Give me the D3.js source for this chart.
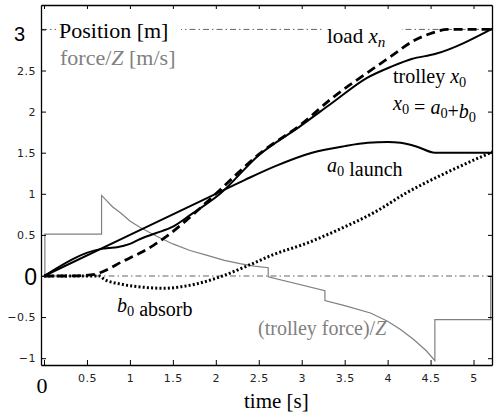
<!DOCTYPE html>
<html>
<head>
<meta charset="utf-8">
<script src="https://cdn.jsdelivr.net/npm/d3@7"></script>
<style>
  body { margin: 0; background: #fff; }
  svg { display: block; }
  .tick text { font-family: "DejaVu Sans", sans-serif; font-size: 11px; letter-spacing: 0.5px; fill: #222; }
  .lbl { font-family: "Liberation Serif", "Times New Roman", serif; }
</style>
</head>
<body>
<svg id="chart"></svg>
<script>
// time axis ticks / position axis ticks
var xTicks = [0, 0.5, 1, 1.5, 2, 2.5, 3, 3.5, 4, 4.5, 5]
var yTicks = [-1, -0.5, 0, 0.5, 1, 1.5, 2, 2.5, 3]

// load x_n (dashed)
var loadT = [0, 0.3, 0.6, 0.7, 0.92, 1.1, 1.27, 1.45, 1.66, 2.0, 2.5, 3.0, 3.36, 3.76, 4.05, 4.3, 4.5, 4.7, 5.22]
var loadV = [0, 0.0, 0.02, 0.06, 0.18, 0.27, 0.37, 0.5, 0.68, 1.0, 1.48, 1.85, 2.17, 2.47, 2.68, 2.86, 2.95, 3.0, 3.0]

// trolley x0 (solid)
var trolleyT = [0, 0.67, 0.75, 0.85, 1.0, 1.12, 1.3, 1.5, 1.7, 2.05, 2.5, 2.98, 3.36, 3.76, 4.05, 4.28, 4.55, 5.22]
var trolleyV = [0, 0.33, 0.34, 0.35, 0.39, 0.45, 0.52, 0.6, 0.74, 1.0, 1.47, 1.82, 2.11, 2.41, 2.55, 2.64, 2.70, 3.01]

// a0 launch (solid)
var launchT = [0, 2.0, 2.34, 2.7, 3.12, 3.5, 3.77, 4.0, 4.15, 4.35, 4.55, 5.22]
var launchV = [0, 1.0, 1.17, 1.34, 1.50, 1.58, 1.62, 1.63, 1.62, 1.57, 1.50, 1.50]

// b0 absorb (dotted)
var absorbT = [0, 0.65, 0.7, 0.9, 1.2, 1.4, 1.6, 1.8, 2.05, 2.36, 2.67, 3.06, 3.4, 3.89, 4.2, 4.67, 5.22]
var absorbV = [0, 0, -0.04, -0.10, -0.14, -0.15, -0.13, -0.09, -0.01, 0.12, 0.26, 0.40, 0.55, 0.80, 1.0, 1.25, 1.51]

// (trolley force)/Z (thin grey)
var forceT = [0, 0.01, 0.01, 0.67, 0.67, 0.8, 0.9, 1.0, 1.12, 1.3, 1.5, 1.7, 1.9, 2.1, 2.28, 2.45, 2.61, 2.61, 3.27, 3.27, 3.5, 3.8, 4.0, 4.15, 4.3, 4.45, 4.55, 4.55, 5.2, 5.2]
var forceV = [0, 0, 0.51, 0.51, 0.98, 0.84, 0.76, 0.67, 0.59, 0.49, 0.39, 0.31, 0.25, 0.19, 0.15, 0.12, 0.10, -0.01, -0.18, -0.30, -0.36, -0.45, -0.55, -0.65, -0.77, -0.91, -1.03, -0.53, -0.53, 0]

var width = 495
var height = 417
var svg = d3.select('#chart').attr('width', width).attr('height', height)

var mLeft = 41, mRight = 492, mTop = 5, mBottom = 365
var x = d3.scaleLinear().domain([-0.035, 5.215]).range([mLeft, mRight])
var y = d3.scaleLinear().domain([-1.083, 3.297]).range([mBottom, mTop])

function pts(ts, vs) {
  return ts.map(function (t, i) { return [t, vs[i]] })
}

// reference dash-dot lines at 0 and 3
svg.selectAll('line.ref').data([0, 3]).enter().append('line')
  .attr('class', 'ref')
  .attr('x1', mLeft).attr('x2', mRight)
  .attr('y1', function (d) { return y(d) })
  .attr('y2', function (d) { return y(d) })
  .attr('stroke', '#666').attr('stroke-width', 1)
  .attr('stroke-dasharray', '6,3,1.5,3')

// white boxes where text sits on the 3 m line
svg.append('rect').attr('x', 56).attr('y', 18).attr('width', 125).attr('height', 24).attr('fill', '#fff')
svg.append('rect').attr('x', 324).attr('y', 18).attr('width', 78).attr('height', 32).attr('fill', '#fff')

var line = d3.line().x(function (d) { return x(d[0]) }).y(function (d) { return y(d[1]) })
var smooth = d3.line().curve(d3.curveMonotoneX).x(function (d) { return x(d[0]) }).y(function (d) { return y(d[1]) })

// force
svg.append('path').attr('d', line(pts(forceT, forceV)))
  .attr('fill', 'none').attr('stroke', '#808080').attr('stroke-width', 1.2)

// b0 absorb
svg.append('path').attr('d', smooth(pts(absorbT, absorbV)))
  .attr('fill', 'none').attr('stroke', '#000').attr('stroke-width', 3)
  .attr('stroke-dasharray', '2,2.2')

// a0 launch
svg.append('path').attr('d', smooth(pts(launchT, launchV)))
  .attr('fill', 'none').attr('stroke', '#000').attr('stroke-width', 2)

// trolley
svg.append('path').attr('d', smooth(pts(trolleyT, trolleyV)))
  .attr('fill', 'none').attr('stroke', '#000').attr('stroke-width', 2)

// load
svg.append('path').attr('d', smooth(pts(loadT, loadV)))
  .attr('fill', 'none').attr('stroke', '#000').attr('stroke-width', 2.8)
  .attr('stroke-dasharray', '9,5')

// axes, ticks pointing in
var fmt = function (d) { return (d === 0 || d === 3) ? '' : String(d).replace('-', '\u2212') }
var xfmt = function (d) { return d === 0 ? '' : String(d) }

svg.append('g').attr('transform', 'translate(0,' + mBottom + ')')
  .call(d3.axisBottom(x).tickValues(xTicks).tickFormat(xfmt).tickSizeInner(-5).tickSizeOuter(0).tickPadding(9))
svg.append('g').attr('transform', 'translate(0,' + mTop + ')')
  .call(d3.axisTop(x).tickValues(xTicks).tickFormat('').tickSizeInner(-4).tickSizeOuter(0))
svg.append('g').attr('transform', 'translate(' + mLeft + ',0)')
  .call(d3.axisLeft(y).tickValues(yTicks).tickFormat(fmt).tickSizeInner(-5).tickSizeOuter(0).tickPadding(5))
svg.append('g').attr('transform', 'translate(' + mRight + ',0)')
  .call(d3.axisRight(y).tickValues(yTicks).tickFormat('').tickSizeInner(-4).tickSizeOuter(0))

svg.selectAll('.domain').attr('stroke', '#000').attr('stroke-width', 1.3)
svg.selectAll('.tick line').attr('stroke', '#000').attr('stroke-width', 1)

// big tick labels
svg.append('text').text('3').attr('x', 25).attr('y', 40.5)
  .attr('text-anchor', 'end').attr('font-family', 'Liberation Sans, Arial, sans-serif').attr('font-size', 20)
svg.append('text').text('0').attr('x', 37).attr('y', 285)
  .attr('text-anchor', 'end').attr('font-family', 'Liberation Sans, Arial, sans-serif').attr('font-size', 23)
svg.append('text').attr('class', 'lbl').text('0').attr('x', 42).attr('y', 393)
  .attr('text-anchor', 'middle').attr('font-size', 22)

// labels
function label(xp, yp, size, color) {
  return svg.append('text').attr('class', 'lbl').attr('x', xp).attr('y', yp)
    .attr('font-size', size).attr('fill', color || '#000')
}
function sub(t, s, italic) {
  t.append('tspan').attr('font-size', '0.72em').attr('dy', 4)
    .attr('font-style', italic ? 'italic' : 'normal').text(s)
  t.append('tspan').attr('dy', -4).text('')
}

label(59, 38, 22).text('Position [m]')
var f = label(60, 65, 22, '#808080')
f.append('tspan').text('force/')
f.append('tspan').attr('font-style', 'italic').text('Z')
f.append('tspan').text(' [m/s]')

var ld = label(327, 43, 21)
ld.append('tspan').text('load  ')
ld.append('tspan').attr('font-style', 'italic').text('x')
sub(ld, 'n', true)

var tr = label(393, 83, 20)
tr.append('tspan').text('trolley ')
tr.append('tspan').attr('font-style', 'italic').text('x')
sub(tr, '0')

var eq = label(393, 110, 20)
eq.append('tspan').attr('font-style', 'italic').text('x')
sub(eq, '0')
eq.append('tspan').text(' = ')
eq.append('tspan').attr('font-style', 'italic').text('a')
sub(eq, '0')
eq.append('tspan').text('+')
eq.append('tspan').attr('font-style', 'italic').text('b')
sub(eq, '0')

var la = label(327, 172, 20)
la.append('tspan').attr('font-style', 'italic').text('a')
sub(la, '0')
la.append('tspan').text(' launch')

var ab = label(117, 312, 20)
ab.append('tspan').attr('font-style', 'italic').text('b')
sub(ab, '0')
ab.append('tspan').text(' absorb')

var tf = label(258, 335, 20, '#808080')
tf.append('tspan').text('(trolley force)/')
tf.append('tspan').attr('font-style', 'italic').text('Z')

label(244, 408, 21).text('time [s]')
</script>
</body>
</html>
